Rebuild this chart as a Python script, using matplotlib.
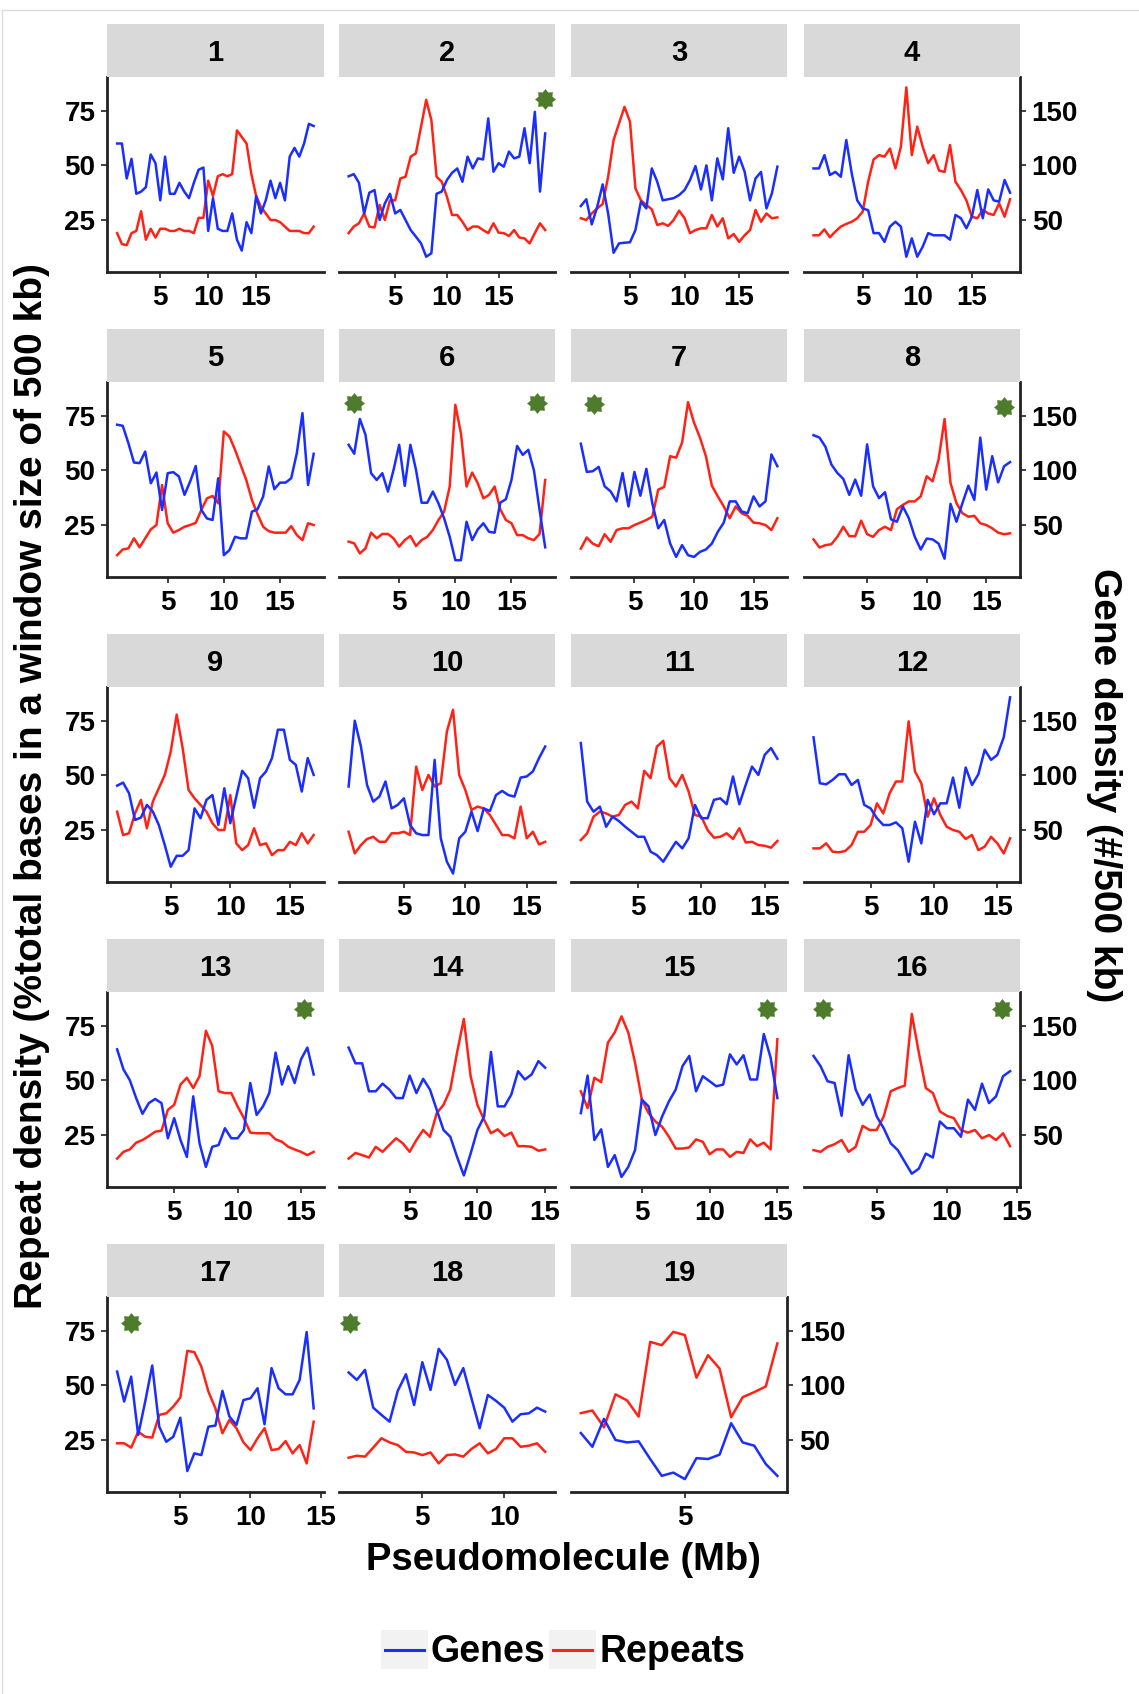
import matplotlib
matplotlib.use("Agg")
import matplotlib.pyplot as plt
import numpy as np
from matplotlib.patches import Rectangle
from matplotlib.lines import Line2D
from matplotlib.path import Path
from matplotlib.legend_handler import HandlerBase

plt.rcParams['font.family'] = ['Liberation Sans', 'DejaVu Sans']
plt.rcParams['font.weight'] = 'bold'

# ---------------- data ----------------
# Windows of 500 kb; x = window end (Mb).  Repeat density in % of bases.
# Gene density is stored on the plotting scale (gene count / 2); the right axis shows counts.
WINDOW_MB = 0.5
CHROMS = list(range(1, 20))

GENES_1 = [60,60,44,53,37,38,40,55,51,34,54,37,37,42,38,35,42,48,49,20,35,21,20,20,28,16,11,24,19,36,28,34,43,35,42,34,54,58,54,60,69,68]
REPEATS_1 = [19,14,13.5,19,20,29,16,21,17,21,21,20,20,21,20,20,19,26,26,43,36,45,46,45,46,66,63,60,46,36,31,28,25,25,24,22,20,20,20,19,19,22]
GENES_2 = [45,46,42,28,37.5,38.7,25,32.6,37,28,29.6,25,20.4,17.4,14.3,8.2,9.8,37,38,43.3,46.6,48.6,42.5,54,48.6,53.2,52.7,71.5,47.1,51,49.4,56.3,53.2,54,67,51,74.5,38,64.6]
REPEATS_2 = [19,22,23.5,28,22,21.6,31.9,25,34,34,44,44.8,54,55.5,67.7,80,70.7,44.8,42.5,35.7,27.3,27.3,24.2,20.4,22,22,20.4,19,23.5,19.2,19,17.7,20.4,17,16.6,14.3,19,23.5,20.4]
GENES_3 = [31.4,34.5,23,31,41.3,28,10,14.3,14.6,14.8,20.4,33.4,30.3,48.6,42.5,34,34.5,35,36.4,38.7,43.3,49.7,39,50,34,53.2,43.6,67,46.6,54,47.1,34,44,47,30.3,37.2,49.4]
REPEATS_3 = [25.8,25,28,30.3,32.3,44.8,61.6,69.2,76.8,70,39.5,34,31.9,29.9,22.7,23.5,22.3,25,29.3,25.8,19,20.4,21.2,21.2,27.3,22,25.8,16.6,18.6,15,18,20.4,29.6,24.2,28,25.8,26.2]
GENES_4 = [48.6,48.6,54.7,45.6,47,44.8,61.6,46.3,34,30.3,29.5,19,19,15,22,24.2,22,8.2,16.6,8.2,12.8,19,18,18,18,16,27.3,25.8,21.2,26.5,38.7,25.8,39,34,33.4,43.3,37.5]
REPEATS_4 = [18,18,20.7,17.1,19.7,22,23.2,24.2,25.8,28.8,42.5,52.7,54.7,54,57.7,48.6,58.5,85.7,54.7,67.7,58.5,51,54.7,47.6,47,59.3,42.5,38.7,34,26.5,25.8,29.6,28,27.3,32.6,26.5,34.5]
GENES_5 = [70.9,70.4,62.5,53.6,53.3,58.6,44.1,49,31.9,48.7,49.2,47.2,38.8,44.9,52,31.9,28,27.3,46.4,11.2,13.5,19.6,18.9,18.9,31.1,32.2,38,51.8,41.4,44.4,44.4,46.4,57.9,76.2,43.3,57.6]
REPEATS_5 = [11.2,13.8,14.3,18.9,14.8,18.9,23,25,43.3,25.8,21.5,22.7,24.2,25,26,31.9,37.2,38.3,34.9,67.8,65.5,59.4,52.5,45.6,36.5,30,24.2,22.2,21.5,21.5,21.5,24.5,20.4,18.1,25.8,25]
GENES_6 = [61.7,57.6,73.5,66.3,48.7,45.6,48.7,40.3,50.2,61.7,42.9,61.7,50.2,35.2,35.2,40.3,34.9,28.1,19.6,8.9,8.9,26.5,18.1,23,25.8,21.9,21.5,35.2,36.8,45.6,61.2,57.1,59.4,50,32,14.8]
REPEATS_6 = [17.4,16.6,12,14.3,21.5,18.9,20.9,20.9,18.9,15.1,18.1,20,15.4,18.1,19.6,22.7,27.3,31.1,42.6,80,67,42.6,49,44.1,37.2,38.8,42.6,32.2,27.3,25.8,20.4,20.4,18.9,18.1,20.9,45.6]
GENES_7 = [62.2,49.3,49.6,51.6,42.7,40.4,35.8,48.8,33.5,49.3,38.4,50.7,35,23.5,27.3,16.5,10.4,15.8,11.2,10.4,12.7,13.8,16.5,21.9,26.1,35.8,35.8,31.2,30.4,38.1,33.5,35.8,57.3,51.9]
REPEATS_7 = [14.2,19.3,16.5,15.3,20.8,17.3,22.7,23.5,23.5,25,26.1,27.3,28.8,41.2,42.4,56.5,55.8,62.7,81.2,71.9,65,56.5,43,38.1,33.5,28.1,33.5,30.4,29.2,26.1,25.8,25,22.7,28.1]
GENES_8 = [66.1,65,60.8,52.7,48.8,46.1,38.8,45.8,38.4,61.9,42.7,37.3,40,27.6,26.5,33.5,28.1,19.6,13.8,18.8,18.4,16.5,9.6,34.7,26.5,35,43,36.5,65,41.2,56.5,44.5,51.9,53.8]
REPEATS_8 = [18.4,14.7,15.8,16.2,19.6,24.2,19.9,19.9,27,20.8,19.6,22.7,24.2,22.7,32.2,34.2,35.8,35.8,38.1,47.3,45,55,73.5,44.2,35,30.4,28.8,29.2,25.8,25,23.5,21.5,20.8,21.2]
GENES_9 = [45.3,46.7,41.8,29.6,30.7,36.5,33.4,27.3,18.1,8.2,13.2,13.2,15.8,34.9,30.4,38.8,41,27.3,44.1,28.1,40.3,52.1,48.7,35.2,48.7,51.8,57.9,70.9,70.9,57.1,54.8,42.6,57.9,50.2]
REPEATS_9 = [33.4,22.7,23.5,32.6,38.8,25.8,38,44.1,50.2,60.9,77.8,62.5,43.3,39.5,36.5,33.4,28.1,25,25,41,18.9,15.8,18.1,25.8,18.1,18.9,13.5,15.8,15.8,19.6,18.1,23.5,18.9,22.7]
GENES_10 = [44.9,75,63.2,45.6,38,40.3,47.2,34.9,36.5,39.5,27.3,23.5,22.7,22.7,57.1,21.2,10.5,5.1,21.2,24.2,33.4,24.5,34.9,33.7,41,42.9,41,40.3,49,49.5,51.8,57.9,63.2]
REPEATS_10 = [24.2,14.3,18.1,20.9,21.9,19.6,19.6,23.5,23.5,24.2,22.7,54,43.3,50.2,44.9,46.4,70.1,80,50.2,43.3,34.2,35.7,34.9,31.9,27.3,22.7,22.7,21.2,35.7,21.2,24.2,18.4,19.6]
GENES_11 = [64.8,38,33.4,35.7,26.5,31.1,29.1,26.5,24.2,21.9,21.9,15.1,13.5,10.5,15.1,19.6,16.6,21.2,36.5,30.4,30.4,38.8,39.5,36.8,49.5,36.8,45.6,54,50.2,59.4,62.5,57.6]
REPEATS_11 = [20.4,23.5,31.1,33.4,32.6,31.1,31.9,36.5,38,34.9,52.1,48.7,63.2,65.8,48.7,44.9,50.2,42.6,31.9,31.1,25,21.5,21.9,23.5,20.9,25.8,19.3,19.6,18.1,17.8,16.9,20]
GENES_12 = [67.4,46.4,45.9,47.9,50.5,50.5,45.6,47.9,36.5,34.9,30.4,27.3,27.3,28.5,25.8,10.5,28.8,18.9,38.8,32.2,37.2,37.2,49,35.2,53.6,45.6,50.5,61.7,57.1,59.4,67.4,85.7]
REPEATS_12 = [16.6,16.6,18.9,15.1,14.8,15.4,18.1,24.2,24.2,27.3,37.2,32.6,41.8,47.2,47.2,74.7,51.8,46.4,31.1,39.5,31.9,26.5,25,24.2,20.9,22.7,15.8,17.4,21.9,18.9,14.3,21.2]
GENES_13 = [64.2,55,50.1,41.9,34.7,39.6,41.5,39.6,23.5,32.7,22.7,15,42.7,21.2,10.4,19.6,20.4,28.1,23.5,23.5,27.3,48.8,34.2,38.1,44.2,62.7,48.1,56.5,48.8,59.6,65,52.7]
REPEATS_13 = [14.2,17.3,18.4,21.5,22.7,24.5,26.5,27,36.5,38.8,48.1,51.2,46.5,51.9,72.7,65.8,45,44.2,44.2,38.1,32.7,26.1,25.8,25.8,25.8,23,21.9,19.6,18.4,17.3,15.8,17.3]
GENES_14 = [65,57.8,57.8,45,45,48.5,45.8,41.9,41.9,52.2,44.2,50.7,45.8,36.5,27.3,24.2,15,6.5,16.5,27.3,33.5,63,38.1,38.1,43.5,54.2,50.4,52.7,58.8,55.8]
REPEATS_14 = [14.2,16.8,15.8,14.7,19.6,17.3,20.4,23.5,21.2,17.3,22.7,27.3,24.2,35,38.8,45.8,62.7,78.1,51.9,38.8,31.9,25.8,27.6,24.5,26.1,19.9,19.9,19.6,17.8,18.4]
GENES_15 = [35,52.2,22.7,27.6,10.4,15.8,5.8,10.4,18.1,41.2,38.1,25,33.5,40.4,45.8,56.5,61.2,45,51.9,49.6,47.3,48.1,61.9,57.3,61.5,50.4,50.4,71.2,60.4,41.9]
REPEATS_15 = [45,37.3,51.2,49.2,67.3,71.9,79.3,71.9,58.1,41.2,35,31.2,28.8,24.2,18.8,18.8,19.3,23,21.9,16.2,18.4,18.4,15,17.3,16.8,23,19.9,21.5,18.4,68.8]
GENES_16 = [61.2,56.5,49.6,48.8,33.8,61.5,45.8,38.8,43.5,33.5,28.1,21.2,18.1,12.7,7.3,9.6,16.5,14.7,31.2,28.1,28.1,24.2,41.2,36.5,48.5,39.6,42.7,51.9,54.2]
REPEATS_16 = [18.1,17.3,19.6,20.8,22.7,17.3,19.6,29.2,27.3,27.3,33.5,45,46.5,47.6,80.4,62.7,46.5,44.2,35.8,33.8,32.7,27.3,26.1,27.3,23.5,25,22.7,25.8,19.9]
GENES_17 = [56.3,42.6,54,27.3,42.6,59.1,31.1,24.2,26.5,35.2,10.8,18.9,18.1,31.1,31.6,47.5,35.7,31.9,43.3,44.1,48.7,32.2,57.9,48.7,45.9,45.9,52.5,74.4,39.5]
REPEATS_17 = [23.5,23.5,21.5,28.8,26.5,26.1,36.5,37.2,40.3,44.4,65.8,65.2,58.6,47.2,39.5,28.1,34.2,30.4,23.9,20.4,25.8,30.4,20.4,20.9,24.5,18.9,22.7,14.3,33.4]
GENES_18 = [55.9,52.5,57.1,39.8,36.5,33.4,47.5,55.1,41,60.6,47.9,66.7,61.7,50.2,57.9,44.1,30.4,45.6,42.9,39.8,33.4,36.8,37.2,39.8,38]
REPEATS_18 = [16.9,17.8,17.4,21.5,25.8,23.9,22.7,19.6,19.3,18.1,19.3,14.3,18.1,18.4,17.4,20.9,23.5,18.9,20.9,25.8,25.8,21.9,22.4,23.5,19.6]
GENES_19 = [28.2,21.9,34.7,25,23.9,24.4,16.3,8.6,10.1,7.1,16.7,16.3,18.3,32.7,23.9,22.4,14,8.6]
REPEATS_19 = [37.3,38.5,30.8,45.9,43.1,35.7,69.9,68.4,74.5,73,53.5,63.8,57.7,35.4,44.6,46.9,49.5,69.2]

GENES = [GENES_1, GENES_2, GENES_3, GENES_4, GENES_5, GENES_6, GENES_7, GENES_8, GENES_9, GENES_10,
         GENES_11, GENES_12, GENES_13, GENES_14, GENES_15, GENES_16, GENES_17, GENES_18, GENES_19]
REPEATS = [REPEATS_1, REPEATS_2, REPEATS_3, REPEATS_4, REPEATS_5, REPEATS_6, REPEATS_7, REPEATS_8, REPEATS_9, REPEATS_10,
           REPEATS_11, REPEATS_12, REPEATS_13, REPEATS_14, REPEATS_15, REPEATS_16, REPEATS_17, REPEATS_18, REPEATS_19]

# marked positions (green stars): chromosome, position (Mb), y on repeat scale
STAR_CHROM = [2, 6, 6, 7, 8, 13, 15, 16, 16, 17, 18]
STAR_X = [19.5, 1.0, 17.3, 1.6, 16.5, 15.2, 14.2, 1.2, 13.9, 1.5, 0.6]
STAR_Y = [80.3, 80.8, 80.8, 80.4, 79.0, 82.6, 82.6, 82.6, 82.6, 78.5, 78.5]

X_BREAKS = [5, 10, 15]
LEFT_BREAKS = [25, 50, 75]
RIGHT_BREAKS = [50, 100, 150]
GENE_FACTOR = 2

# ---------------- styling / layout ----------------
W, H = 1139, 1694
GENE_COL = '#1a2eff'
REP_COL = '#ff2215'
STAR_COL = '#4f7c2c'
AXIS_COL = '#222222'
STRIP_COL = '#d9d9d9'
LW = 1.8

col_left = [107.3, 338.8, 571.0, 803.7]
panel_w = 216.2
panel_h = 194.4
strip_h = 53.3
row_bottom = [271.7, 576.7, 881.7, 1186.7, 1491.7]
YLIM = (1.35, 90.3)

# rounded 8-point star marker
_n = 8
_ang = np.linspace(0, 2 * np.pi, 2 * _n, endpoint=False) + np.pi / 2
_rad = np.where(np.arange(2 * _n) % 2 == 0, 1.0, 0.72)
STAR_MARKER = Path(np.column_stack([_rad * np.cos(_ang), _rad * np.sin(_ang)]).tolist()
                   + [[0.0, 1.0]], closed=True)

fig = plt.figure(figsize=(W / 100, H / 100), dpi=100)
fig.patch.set_facecolor('white')

# faint page border (top & left visible)
fig.patches.append(Rectangle((1.5 / W, -0.02), 1.1, (H - 10.4) / H + 0.02,
                             transform=fig.transFigure, fill=False,
                             edgecolor='#dcdcdc', lw=1.0))

for idx, chrom in enumerate(CHROMS):
    r, c = divmod(idx, 4)
    left = col_left[c] / W
    bottom = 1 - row_bottom[r] / H
    ax = fig.add_axes([left, bottom, panel_w / W, panel_h / H])
    g = GENES[idx]
    rp = REPEATS[idx]
    xs = [WINDOW_MB * (i + 1) for i in range(len(g))]
    ax.plot(xs, rp, color=REP_COL, lw=LW, solid_joinstyle='round')
    ax.plot(xs, g, color=GENE_COL, lw=LW, solid_joinstyle='round')
    ax.margins(x=0.05)
    ax.set_ylim(*YLIM)
    xmin, xmax = ax.get_xlim()
    ax.set_xticks([b for b in X_BREAKS if xmin <= b <= xmax])
    ax.tick_params(axis='x', length=4.5, width=1.3, color='#333333', pad=5,
                   labelsize=20, labelcolor='black')
    for s in ['top', 'right']:
        ax.spines[s].set_visible(False)
    ax.spines['bottom'].set_linewidth(2.0)
    ax.spines['bottom'].set_color(AXIS_COL)
    if c == 0:
        ax.set_yticks(LEFT_BREAKS)
        ax.tick_params(axis='y', length=4.5, width=1.3, color='#333333', pad=4,
                       labelsize=20, labelcolor='black')
        ax.spines['left'].set_linewidth(2.0)
        ax.spines['left'].set_color(AXIS_COL)
    else:
        ax.spines['left'].set_visible(False)
        ax.set_yticks([])
    if c == 3 or idx == len(CHROMS) - 1:
        sec = ax.secondary_yaxis('right', functions=(lambda v: v * GENE_FACTOR,
                                                    lambda v: v / GENE_FACTOR))
        sec.set_yticks(RIGHT_BREAKS)
        sec.tick_params(axis='y', length=4.5, width=1.3, color='#333333', pad=4,
                        labelsize=20, labelcolor='black')
        sec.spines['right'].set_linewidth(2.0)
        sec.spines['right'].set_color(AXIS_COL)
    # stars
    sx = [x for ch, x in zip(STAR_CHROM, STAR_X) if ch == chrom]
    sy = [y for ch, y in zip(STAR_CHROM, STAR_Y) if ch == chrom]
    if sx:
        ax.plot(sx, sy, linestyle='none', marker=STAR_MARKER, ms=15,
                color=STAR_COL, mec='none', clip_on=False, zorder=5)
    # strip
    sax = fig.add_axes([left, bottom + panel_h / H, panel_w / W, strip_h / H])
    sax.set_facecolor(STRIP_COL)
    sax.set_xticks([]); sax.set_yticks([])
    for s in sax.spines.values():
        s.set_visible(False)
    sax.text(0.5, 0.45, str(chrom), ha='center', va='center', fontsize=21,
             fontweight='bold', transform=sax.transAxes)

# axis titles
fig.text(32.4 / W, 1 - 786.5 / H, 'Repeat density (%total bases in a window size of 500 kb)',
         rotation=90, ha='center', va='center', fontsize=28, fontweight='bold')
fig.text(1104.5 / W, 1 - 785 / H, 'Gene density (#/500 kb)',
         rotation=270, ha='center', va='center', fontsize=28, fontweight='bold')
fig.text(563 / W, 1 - 1559.5 / H, 'Pseudomolecule (Mb)',
         ha='center', va='center', fontsize=27.5, fontweight='bold')


class KeyHandler(HandlerBase):
    def create_artists(self, legend, orig_handle, xdescent, ydescent, width,
                       height, fontsize, trans):
        rect = Rectangle((-xdescent, -ydescent), width, height,
                         facecolor='#f2f2f2', edgecolor='none', transform=trans)
        y = -ydescent + height / 2
        line = Line2D([-xdescent + 0.08 * width, -xdescent + 0.92 * width], [y, y],
                      color=orig_handle.get_color(), lw=2.2, transform=trans)
        return [rect, line]


handles = [Line2D([], [], color=GENE_COL), Line2D([], [], color=REP_COL)]
fig.legend(handles, ['Genes', 'Repeats'], loc='center',
           bbox_to_anchor=(563 / W, 1 - 1650 / H), ncol=2, frameon=False,
           prop={'size': 27, 'weight': 'bold'},
           handler_map={Line2D: KeyHandler()},
           handlelength=1.25, handleheight=1.25, handletextpad=0.08,
           columnspacing=0.1, borderpad=0, borderaxespad=0)

fig.savefig('out.png', dpi=100, facecolor='white')
